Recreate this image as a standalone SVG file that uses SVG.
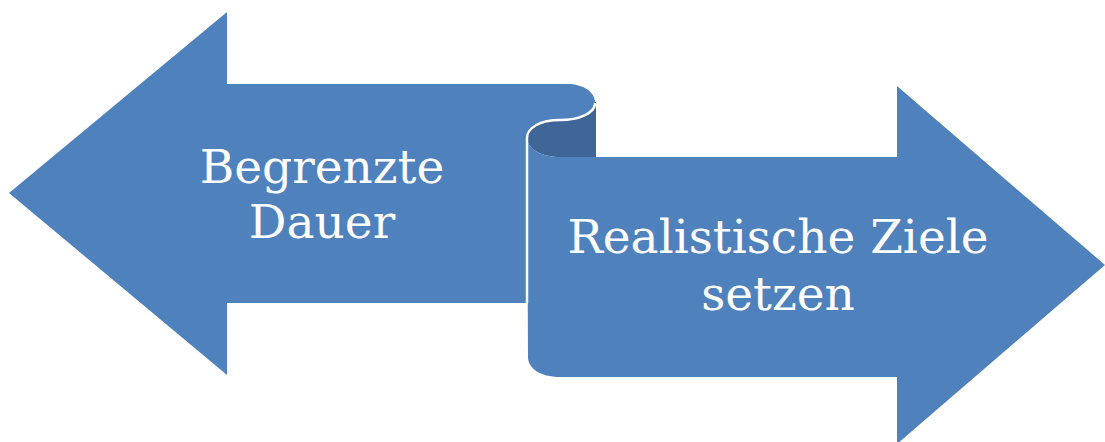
<svg xmlns="http://www.w3.org/2000/svg" width="1105" height="442" viewBox="0 0 1105 442">
<style>
.shape{fill:#4F81BD;stroke:none}
.fold{fill:#3F6696;stroke:none}
.edge{fill:none;stroke:#FFFFFF;stroke-width:2.5;stroke-linecap:round}
.lbl{font-family:"DejaVu Serif","Liberation Serif",serif;font-size:47px;fill:#FFFFFF;text-anchor:middle}
</style>
<rect width="1105" height="442" fill="#FFFFFF"/>
<g id="connectors"></g>
<g id="node-left">
<path class="shape" d="M9,193 L227,12 L227,84 L567,84 C583,84 595,92 595,102 C595,112 580,120 560,120 C540,120 527,128 527,138 L527,303 L227,303 L227,375 Z"/>
<text class="lbl" x="322" y="183">Begrenzte</text>
<text class="lbl" x="322" y="238">Dauer</text>
</g>
<g id="node-fold">
<path class="fold" d="M595,102 C595,112 580,120 560,120 C540,120 527,128 527,138 C527,148 540,157 560,157 L596,157 L596,102 Z"/>
</g>
<g id="node-right">
<path class="shape" d="M527,138 C527,148 540,157 560,157 L897,157 L897,86 L1105,265 L897,444 L897,377 L560,377 C540,377 528,368 528,357 Z"/>
<path class="edge" d="M595,104 C594,113 580,120 560,120 C540,120 527,128 527,138 L527,303"/>
<text class="lbl" x="778" y="253">Realistische Ziele</text>
<text class="lbl" x="778" y="310">setzen</text>
</g>
</svg>
